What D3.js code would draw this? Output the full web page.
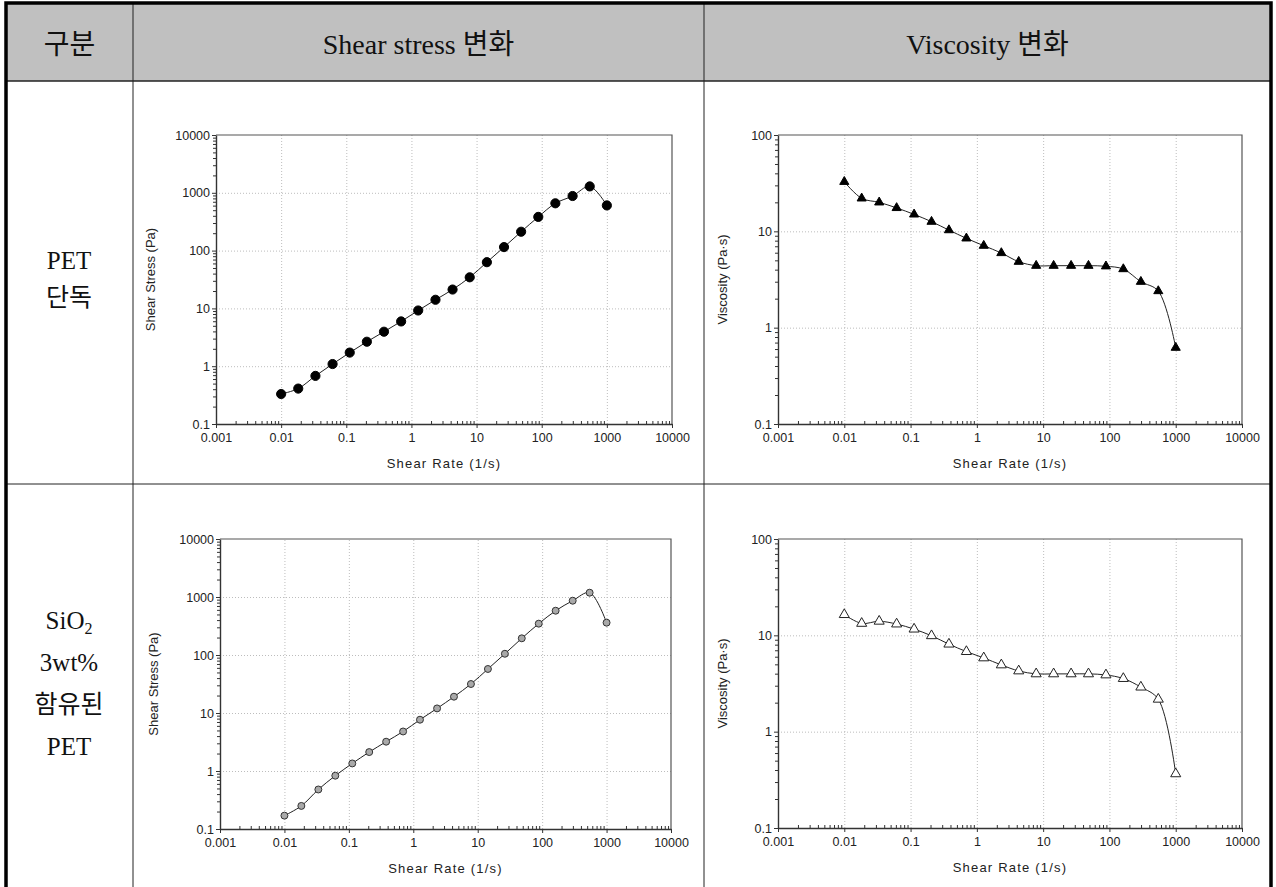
<!DOCTYPE html>
<html>
<head>
<meta charset="utf-8">
<script src="https://cdn.jsdelivr.net/npm/d3@7"></script>
<style>
	body { margin: 0; background: #fff; }
	svg { display: block; }
	.tick text { font-family: "Liberation Sans", Arial, sans-serif; font-size: 12.5px; fill: #222; }
	.axis path, .axis line { stroke: #333; }
	.grid line { stroke: #bdbdbd; stroke-dasharray: 1,2; }
	.grid path { stroke: none; }
	.cell-text { font-family: "Liberation Serif", "Noto Sans CJK KR", serif; fill: #111; }
</style>
</head>
<body>
<svg id="vis" width="1276" height="887"></svg>
<script>
// shear rate sweep (1/s), 20 points per run
const shearRate = [0.01, 0.0183, 0.0336, 0.0616, 0.113, 0.207, 0.379, 0.695, 1.27, 2.34,
	4.28, 7.85, 14.4, 26.4, 48.3, 88.6, 162, 298, 546, 1000];

// PET alone
const petStress = [0.33, 0.41, 0.68, 1.09, 1.72, 2.65, 3.95, 5.95, 9.2, 14.1,
	21.2, 34.5, 63, 115, 212, 383, 658, 880, 1290, 605];
const petVisc = [32.7, 22.0, 20.0, 17.5, 15.0, 12.6, 10.3, 8.46, 7.1, 5.96,
	4.84, 4.40, 4.40, 4.40, 4.40, 4.34, 4.06, 3.0, 2.40, 0.62];

// PET with SiO2 3wt%
const sioStress = [0.17, 0.25, 0.48, 0.83, 1.35, 2.12, 3.2, 4.8, 7.66, 12.0,
	19.1, 31.6, 57.4, 105, 194, 347, 580, 863, 1186, 361];
const sioVisc = [16.4, 13.3, 14.0, 13.1, 11.6, 9.9, 8.1, 6.78, 5.83, 4.93,
	4.27, 3.98, 3.98, 3.98, 3.98, 3.88, 3.56, 2.90, 2.17, 0.365];

// tick labels
const rateTicks = ["0.001", "0.01", "0.1", "1", "10", "100", "1000", "10000"];
const stressTicks = ["0.1", "1", "10", "100", "1000", "10000"];
const viscTicks = ["0.1", "1", "10", "100"];

// table texts
const headers = ["구분", "Shear stress 변화", "Viscosity 변화"];

const svg = d3.select("svg#vis");

// ---------- table ----------
const cols = [6, 133, 704, 1271];
const rows = [3, 81, 484, 887];

svg.append("rect")
	.attr("x", cols[0]).attr("y", rows[0])
	.attr("width", cols[3] - cols[0]).attr("height", rows[1] - rows[0])
	.attr("fill", "#c0c0c0");

headers.forEach(function(h, i) {
	svg.append("text")
		.attr("class", "cell-text")
		.attr("x", (cols[i] + cols[i + 1]) / 2)
		.attr("y", 54)
		.attr("text-anchor", "middle")
		.style("font-size", "28px")
		.text(h);
});

// inner lines
svg.append("line").attr("x1", cols[0]).attr("x2", cols[3]).attr("y1", rows[1]).attr("y2", rows[1])
	.attr("stroke", "#222").attr("stroke-width", 1.5);
svg.append("line").attr("x1", cols[0]).attr("x2", cols[3]).attr("y1", rows[2]).attr("y2", rows[2])
	.attr("stroke", "#222").attr("stroke-width", 1);
[cols[1], cols[2]].forEach(function(x) {
	svg.append("line").attr("x1", x).attr("x2", x).attr("y1", rows[0]).attr("y2", rows[3])
		.attr("stroke", "#222").attr("stroke-width", 1);
});

// outer thick border (no bottom edge visible)
svg.append("path")
	.attr("d", `M${cols[0]},${rows[3]} V${rows[0]} H${cols[3]} V${rows[3]}`)
	.attr("fill", "none").attr("stroke", "#000").attr("stroke-width", 3.5);

// row labels
function rowLabel(lines, y0, step) {
	const t = svg.append("text")
		.attr("class", "cell-text")
		.attr("text-anchor", "middle")
		.style("font-size", "25px");
	lines.forEach(function(l, i) {
		const ts = t.append("tspan").attr("x", 69).attr("y", y0 + i * step);
		if (Array.isArray(l)) {
			ts.text(l[0]);
			ts.append("tspan").attr("dy", 5).style("font-size", "16px").text(l[1]);
		} else {
			ts.text(l);
		}
	});
}
rowLabel(["PET", "단독"], 269, 37);
rowLabel([["SiO", "2"], "3wt%", "함유된", "PET"], 629, 42);

// ---------- charts ----------
function drawPanel(cfg) {
	const g = svg.append("g");
	const w = cfg.x1 - cfg.x0, h = cfg.y1 - cfg.y0;

	const x = d3.scaleLog().domain([0.001, 10000]).range([cfg.x0, cfg.x1]);
	const y = d3.scaleLog().domain(cfg.yDomain).range([cfg.y1, cfg.y0]);

	const xMajor = rateTicks.map(Number);
	const yMajor = cfg.yTicks.map(Number);
	const isMajor = v => Math.abs(Math.log10(v) - Math.round(Math.log10(v))) < 1e-9;

	// grid
	g.append("g").attr("class", "grid")
		.attr("transform", translate(0, cfg.y1))
		.call(d3.axisBottom(x).tickValues(xMajor.slice(1, -1)).tickSize(-h).tickFormat(""));
	g.append("g").attr("class", "grid")
		.attr("transform", translate(cfg.x0, 0))
		.call(d3.axisLeft(y).tickValues(yMajor.slice(1, -1)).tickSize(-w).tickFormat(""));

	// frame top/right
	g.append("path")
		.attr("d", `M${cfg.x0},${cfg.y0} H${cfg.x1} V${cfg.y1}`)
		.attr("fill", "none").attr("stroke", "#555").attr("stroke-width", 1.2);

	// minor ticks
	g.append("g").attr("class", "axis")
		.attr("transform", translate(0, cfg.y1))
		.call(d3.axisBottom(x).tickValues(x.ticks().filter(v => !isMajor(v))).tickSizeInner(-3).tickSizeOuter(0).tickFormat(""))
		.select(".domain").remove();
	g.append("g").attr("class", "axis")
		.attr("transform", translate(cfg.x0, 0))
		.call(d3.axisLeft(y).tickValues(y.ticks().filter(v => !isMajor(v))).tickSizeInner(3).tickSizeOuter(0).tickFormat(""))
		.select(".domain").remove();

	// major axes
	g.append("g").attr("class", "axis")
		.attr("transform", translate(0, cfg.y1))
		.call(d3.axisBottom(x).tickValues(xMajor).tickSizeInner(4).tickSizeOuter(0).tickPadding(5)
			.tickFormat((d, i) => rateTicks[i]))
		.select(".domain").attr("stroke-width", 1.4);
	g.append("g").attr("class", "axis")
		.attr("transform", translate(cfg.x0, 0))
		.call(d3.axisLeft(y).tickValues(yMajor).tickSizeInner(4).tickSizeOuter(0).tickPadding(2)
			.tickFormat((d, i) => cfg.yTicks[i]))
		.select(".domain").attr("stroke-width", 1.4);

	// axis titles
	g.append("text")
		.attr("x", (cfg.x0 + cfg.x1) / 2)
		.attr("y", cfg.y1 + 44)
		.attr("text-anchor", "middle")
		.style("font-family", "'Liberation Sans', Arial, sans-serif")
		.style("font-size", "13px")
		.style("letter-spacing", "1.2px")
		.attr("fill", "#222")
		.text("Shear Rate (1/s)");

	g.append("text")
		.attr("transform", translate(cfg.titleX, (cfg.y0 + cfg.y1) / 2) + " rotate(-90)")
		.attr("text-anchor", "middle")
		.style("font-family", "'Liberation Sans', Arial, sans-serif")
		.style("font-size", "13px")
		.attr("fill", "#222")
		.text(cfg.yTitle);

	// line + markers
	const pts = shearRate.map((r, i) => [r, cfg.values[i]]);
	const line = d3.line()
		.x(d => x(d[0]))
		.y(d => y(d[1]))
		.curve(d3.curveCatmullRom.alpha(0.5));

	g.append("path")
		.datum(pts)
		.attr("d", line)
		.attr("fill", "none")
		.attr("stroke", "#222")
		.attr("stroke-width", 1);

	const sym = d3.symbol().type(cfg.symbol).size(cfg.size);
	g.selectAll("path.mark")
		.data(pts)
		.enter()
		.append("path")
		.attr("class", "mark")
		.attr("transform", d => translate(x(d[0]), y(d[1])))
		.attr("d", sym)
		.attr("fill", cfg.fill)
		.attr("stroke", cfg.stroke)
		.attr("stroke-width", 1);
}

drawPanel({ x0: 216, x1: 672, y0: 135, y1: 424, yDomain: [0.1, 10000], yTicks: stressTicks,
	values: petStress, yTitle: "Shear Stress (Pa)", titleX: 155,
	symbol: d3.symbolCircle, size: 66, fill: "#000", stroke: "#000" });

drawPanel({ x0: 778, x1: 1242, y0: 135, y1: 424, yDomain: [0.1, 100], yTicks: viscTicks,
	values: petVisc, yTitle: "Viscosity (Pa·s)", titleX: 727,
	symbol: d3.symbolTriangle, size: 36, fill: "#000", stroke: "#000" });

drawPanel({ x0: 220, x1: 671, y0: 539, y1: 829, yDomain: [0.1, 10000], yTicks: stressTicks,
	values: sioStress, yTitle: "Shear Stress (Pa)", titleX: 158,
	symbol: d3.symbolCircle, size: 38, fill: "#a9a9a9", stroke: "#333" });

drawPanel({ x0: 778, x1: 1242, y0: 539, y1: 828, yDomain: [0.1, 100], yTicks: viscTicks,
	values: sioVisc, yTitle: "Viscosity (Pa·s)", titleX: 727,
	symbol: d3.symbolTriangle, size: 44, fill: "#fff", stroke: "#222" });

//Helper
function translate(x, y) {
	return 'translate(' + x + ',' + y + ')';
}
</script>
</body>
</html>
